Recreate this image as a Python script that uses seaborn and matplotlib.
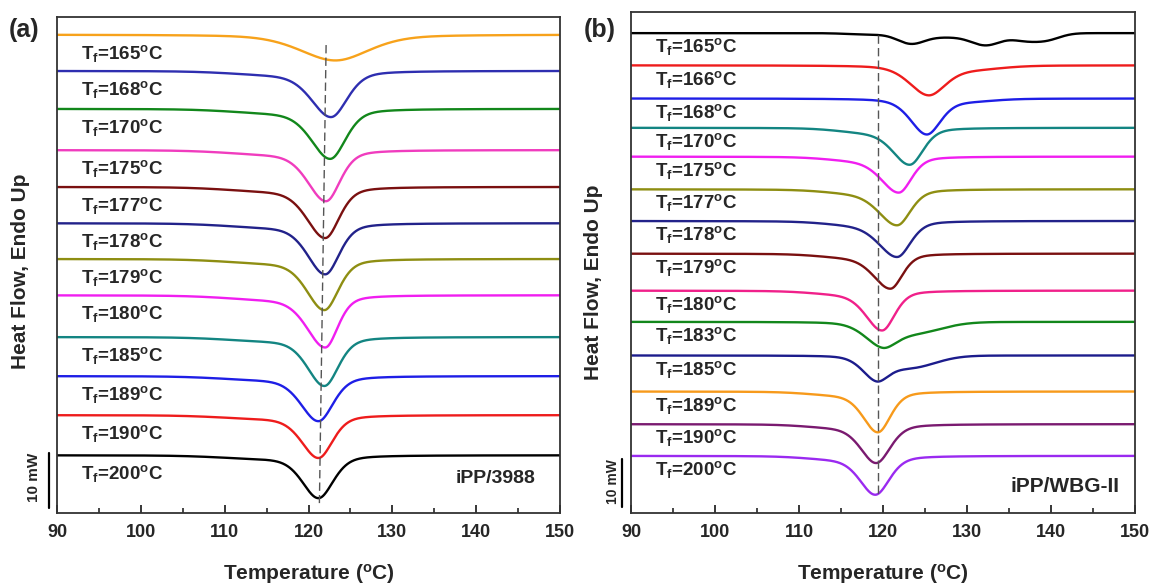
import numpy as np
import pandas as pd
import matplotlib
matplotlib.use("Agg")
import matplotlib.pyplot as plt
import seaborn as sns

# ---------------- data ----------------
# Panel (a): iPP/3988
tf_a = [165, 168, 170, 175, 177, 178, 179, 180, 185, 189, 190, 200]
base_a = [87.0, 80.4, 73.5, 66.0, 59.3, 52.7, 46.2, 39.6, 32.0, 24.9, 17.8, 10.5]   # mW baseline
peak_a = [123.2, 122.7, 122.6, 122.1, 122.0, 122.0, 121.9, 122.0, 121.9, 121.2, 121.2, 121.2]
depth_a = [4.7, 8.4, 9.1, 9.3, 9.3, 9.3, 9.3, 9.5, 8.9, 8.2, 7.8, 7.8]
hwl_a = [5.0, 2.8, 2.7, 2.6, 2.6, 2.5, 2.5, 2.6, 2.4, 2.5, 2.4, 2.3]   # half width, low-T side
hwr_a = [4.8, 2.3, 2.2, 2.0, 2.0, 2.0, 2.0, 1.8, 2.0, 2.1, 2.0, 2.1]   # half width, high-T side
sh_amp_a = [0.0, 0.06, 0.06, 0.06, 0.06, 0.06, 0.06, 0.06, 0.06, 0.06, 0.06, 0.06]
sh_pos_a = [0.0, -7, -7, -7, -7, -7, -7, -7, -7, -7, -7, -7]
sh_w_a = [1.0, 5, 5, 5, 5, 5, 5, 5, 5, 5, 5, 5]

# Panel (b): iPP/WBG-II
tf_b = [165, 166, 168, 170, 175, 177, 178, 179, 180, 183, 185, 189, 190, 200]
base_b = [99.9, 93.2, 86.3, 80.2, 74.2, 67.4, 60.8, 54.0, 46.3, 39.8, 32.8, 25.3, 18.5, 11.9]
peak_b = [123.3, 125.4, 125.2, 123.2, 121.9, 121.7, 121.7, 120.9, 119.9, 119.9, 119.2, 119.4, 119.2, 119.1]
depth_b = [0.0, 6.25, 7.5, 7.7, 7.5, 7.5, 7.5, 7.3, 8.3, 5.4, 5.4, 8.5, 8.1, 8.1]
hwl_b = [1.0, 2.7, 2.3, 2.4, 2.5, 2.6, 2.6, 2.4, 2.3, 2.5, 2.0, 2.1, 2.2, 2.2]
hwr_b = [1.0, 2.4, 2.0, 1.9, 1.8, 1.9, 1.9, 1.7, 1.8, 2.0, 1.7, 1.8, 2.0, 2.0]
sh_amp_b = [0.0, 0.12, 0.06, 0.1, 0.08, 0.08, 0.08, 0.08, 0.06, 0.5, 0.55, 0.06, 0.06, 0.06]
sh_pos_b = [0.0, 5.0, 5.0, -5, -5, -5, -5, -5, -5, 3.8, 4.0, -5, -5, -5]
sh_w_b = [1.0, 3.5, 3.0, 3.5, 3.5, 3.5, 3.5, 3.5, 3.5, 3.2, 3.0, 3.5, 3.5, 3.5]
# multi-peak trace (Tf = 165 C, panel b)
b165_centers = [118.5, 123.3, 127.5, 132.3, 136.8, 139.5]
b165_depths = [0.3, 2.0, 0.8, 2.4, 1.3, 1.3]
b165_widths = [2.5, 1.6, 2.5, 1.8, 1.6, 1.6]

colors_a = ["#F7A21B", "#2E2EB0", "#12871B", "#F03CBE", "#7A1010", "#22228A",
            "#8E8E12", "#F01EF0", "#138582", "#1E1EE6", "#EE1C1C", "#000000"]
colors_b = ["#000000", "#EE1C1C", "#1E1EE6", "#138582", "#F01EF0", "#8E8E12",
            "#22228A", "#7A1010", "#F0208A", "#12871B", "#1C1C8C", "#F79A1B",
            "#7A1A70", "#9A2AF0"]

# ---------------- style ----------------
sns.set_theme(style="white")
plt.rcParams["font.family"] = ["Liberation Sans", "DejaVu Sans"]
plt.rcParams["font.weight"] = "bold"
plt.rcParams["mathtext.fontset"] = "custom"
plt.rcParams["mathtext.rm"] = "Liberation Sans:bold"
plt.rcParams["mathtext.it"] = "Liberation Sans:bold"
plt.rcParams["mathtext.bf"] = "Liberation Sans:bold"
plt.rcParams["mathtext.default"] = "rm"

T = np.linspace(90, 150, 1201)
ETA = 0.4


def pv(x, hw):
    u = (x / hw) ** 2
    return (1 - ETA) * np.exp(-np.log(2) * u) + ETA / (1 + u)


def trace(base, tp, depth, hl, hr, sa, sp, sw):
    hw = np.where(T < tp, hl, hr)
    main = pv(T - tp, hw)
    sh = sa * np.exp(-0.5 * ((T - tp - sp) / sw) ** 2)
    norm = 1 + sa * np.exp(-0.5 * (sp / sw) ** 2)
    return base - depth * (main + sh) / norm


def label(tf):
    return r"$T_f$=%d$^o$C" % tf


def build(tfs, bases, peaks, depths, hl, hr, sa, sp, sw, extra=None):
    frames = []
    for i, tf in enumerate(tfs):
        y = trace(bases[i], peaks[i], depths[i], hl[i], hr[i], sa[i], sp[i], sw[i])
        if extra is not None and i == 0:
            c, d, w = extra
            for cc, dd, ww in zip(c, d, w):
                y = y - dd * np.exp(-0.5 * ((T - cc) / ww) ** 2)
        frames.append(pd.DataFrame({"T": T, "hf": y, "label": label(tf)}))
    return pd.concat(frames, ignore_index=True)


df_a = build(tf_a, base_a, peak_a, depth_a, hwl_a, hwr_a, sh_amp_a, sh_pos_a, sh_w_a)
df_b = build(tf_b, base_b, peak_b, depth_b, hwl_b, hwr_b, sh_amp_b, sh_pos_b, sh_w_b,
             extra=(b165_centers, b165_depths, b165_widths))

fig = plt.figure(figsize=(11.56, 5.87), dpi=100)
axA = fig.add_axes([57 / 1156, 74 / 587, 503 / 1156, 496 / 587])
axB = fig.add_axes([631 / 1156, 74 / 587, 504 / 1156, 501 / 587])

panels = [
    (axA, df_a, tf_a, base_a, colors_a, (0, 90.2), "iPP/3988", 14,
     ([122.1, 121.3], [85.1, 1.8]), (89.08, 0.9, 87.3, 6.4, 11), 4.4, 92.9, (142.3, 6.3)),
    (axB, df_b, tf_b, base_b, colors_b, (0, 104.3), "iPP/WBG-II", 15,
     ([119.4, 119.4], [99.6, 3.3]), (88.9, 1.2, 87.9, 6.5, 10), 4.0, 92.8, (141.7, 5.5)),
]

for (ax, df, tfs, bases, cols, ylim, name, nfs, dash, bar, loff, lx, npos) in panels:
    pal = {label(t): c for t, c in zip(tfs, cols)}
    sns.lineplot(data=df, x="T", y="hf", hue="label", palette=pal, legend=False,
                 estimator=None, sort=False, lw=1.7, ax=ax)
    ax.plot(dash[0], dash[1], color="#555555", lw=1.0, ls=(0, (6, 3)))
    for t, b in zip(tfs, bases):
        ax.text(lx, b - loff, label(t), fontsize=13.5, fontweight="bold",
                ha="left", va="baseline")
    ax.text(npos[0], npos[1], name, fontsize=nfs, fontweight="bold",
            ha="center", va="center")
    bx, by, tx, ty, fs = bar
    ax.plot([bx, bx], [by, by + 10], color="black", lw=1.6, clip_on=False)
    ax.text(tx, ty, "10 mW", rotation=90, fontsize=fs, fontweight="bold",
            ha="center", va="center", clip_on=False)
    ax.set_xlim(90, 150)
    ax.set_ylim(*ylim)
    ax.set_xticks(range(90, 151, 10))
    ax.set_xticks(range(95, 150, 10), minor=True)
    ax.set_yticks([])
    ax.tick_params(axis="x", which="major", direction="in", length=6, width=1.3,
                   labelsize=13, pad=8, bottom=True, top=False)
    ax.tick_params(axis="x", which="minor", direction="in", length=3.5, width=1.2,
                   bottom=True, top=False)
    for lab in ax.get_xticklabels():
        lab.set_fontweight("bold")
    for s in ax.spines.values():
        s.set_color("#333333")
        s.set_linewidth(1.3)
    ax.set_xlabel(r"Temperature ($^o$C)", fontsize=15, fontweight="bold", labelpad=15)
    ax.set_ylabel("Heat Flow, Endo Up", fontsize=15, fontweight="bold")

axA.yaxis.set_label_coords(-0.054, 0.488)
axB.yaxis.set_label_coords(-0.056, 0.46)

fig.text(24 / 1156, 1 - 30 / 587, "(a)", fontsize=18, fontweight="bold", ha="center", va="center")
fig.text(600 / 1156, 1 - 30 / 587, "(b)", fontsize=18, fontweight="bold", ha="center", va="center")

fig.savefig("out.png", dpi=100)
